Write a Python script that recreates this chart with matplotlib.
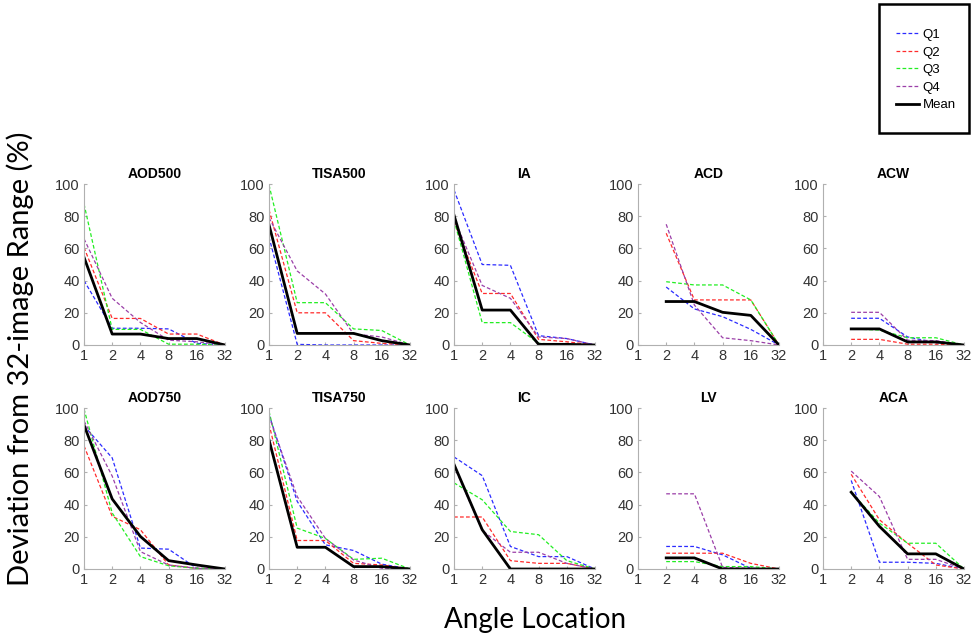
import numpy as np
import matplotlib
matplotlib.use('Agg')
import matplotlib.pyplot as plt
from matplotlib.lines import Line2D
from matplotlib.patches import Rectangle

plt.rcParams['font.family'] = ['Liberation Sans', 'DejaVu Sans']

angles = [1, 2, 4, 8, 16, 32]
nan = np.nan

titles = ['AOD500', 'TISA500', 'IA', 'ACD', 'ACW',
          'AOD750', 'TISA750', 'IC', 'LV', 'ACA']

# values per panel: Q1, Q2, Q3, Q4, Mean (deviation in %)
aod500 = {'Q1': [40, 10.4, 10.4, 10, 1, 0],
          'Q2': [60.6, 16.5, 16.5, 6.8, 6.8, 0],
          'Q3': [87.6, 9.7, 9.7, 0.5, 0.5, 0],
          'Q4': [66, 29, 14, 3, 2, 0],
          'Mean': [54.5, 6.8, 6.8, 4, 4, 0]}
tisa500 = {'Q1': [67, 0.4, 0, 0, 0, 0],
           'Q2': [84, 20, 20, 2.7, 1, 0],
           'Q3': [99.4, 26.3, 26.3, 10, 9, 0],
           'Q4': [79, 46, 31.7, 6.8, 5, 0],
           'Mean': [74.7, 7.2, 7.2, 7.2, 2.7, 0]}
ia = {'Q1': [96.3, 50, 49.5, 5.8, 4, 0],
      'Q2': [76.6, 32, 32, 3.5, 2, 0],
      'Q3': [77.6, 13.9, 13.9, 1, 0.5, 0],
      'Q4': [78.7, 37, 29, 5, 4, 0],
      'Mean': [80.7, 21.7, 21.7, 0.4, 0.4, 0]}
acd = {'Q1': [nan, 36, 22.4, 17.6, 9.7, 0],
       'Q2': [nan, 69.4, 28, 28, 28, 0],
       'Q3': [nan, 39.3, 37.3, 37.3, 28, 0],
       'Q4': [nan, 75, 24.8, 4.5, 2.7, 0],
       'Mean': [nan, 27, 27, 20.3, 18.4, 0]}
acw = {'Q1': [nan, 16.6, 16.6, 5, 1.5, 0],
       'Q2': [nan, 3.5, 3.5, 0.5, 0.5, 0],
       'Q3': [nan, 10, 9.3, 4.5, 4.5, 0],
       'Q4': [nan, 20.3, 20.3, 3, 2.7, 0],
       'Mean': [nan, 10, 10, 1.9, 1.9, 0]}
aod750 = {'Q1': [89, 69, 13, 12.3, 0.4, 0],
          'Q2': [76.5, 32.7, 24.4, 2.5, 0.4, 0],
          'Q3': [99.4, 34.8, 7.7, 2, 0.4, 0],
          'Q4': [92, 57.7, 10.8, 2.5, 0.4, 0],
          'Mean': [89.4, 43.5, 20.2, 5.2, 2.5, 0]}
tisa750 = {'Q1': [96, 42, 15, 11.5, 3, 0],
           'Q2': [90, 17.7, 17.7, 3.5, 2.5, 0],
           'Q3': [98, 25.4, 19, 6, 6.7, 0],
           'Q4': [95, 45, 19, 5.6, 0.4, 0],
           'Mean': [80.2, 13.5, 13.5, 1.5, 1.5, 0]}
ic = {'Q1': [69.6, 58, 14, 7.7, 7.7, 0],
      'Q2': [32.3, 32.3, 5.2, 3.5, 3.5, 0],
      'Q3': [53.5, 43, 23.3, 21.3, 5.2, 0],
      'Q4': [64, 24, 10.4, 10.4, 3.5, 0],
      'Mean': [65, 24.4, 0, 0, 0, 0]}
lv = {'Q1': [nan, 14, 14, 8.8, 0.4, 0],
      'Q2': [nan, 9.8, 9.8, 9.8, 3.5, 0],
      'Q3': [nan, 4.6, 4.6, 1.5, 1.5, 0],
      'Q4': [nan, 46.7, 46.7, 1, 0.4, 0],
      'Mean': [nan, 6.9, 6.9, 0, 0, 0]}
aca = {'Q1': [nan, 55, 4.2, 4.2, 3.5, 0],
       'Q2': [nan, 58.8, 30.6, 16, 2.5, 0],
       'Q3': [nan, 47.7, 28.5, 16, 16, 0],
       'Q4': [nan, 60.8, 45, 6, 6, 0],
       'Mean': [nan, 47.7, 26.5, 9.4, 9.4, 0]}

panels = [aod500, tisa500, ia, acd, acw, aod750, tisa750, ic, lv, aca]

colors = {'Q1': '#2b2bff', 'Q2': '#ff2b2b', 'Q3': '#22ee22', 'Q4': '#9b3fa8'}


def plot_panel(ax, title, data):
    for q in ['Q1', 'Q2', 'Q3', 'Q4']:
        ax.plot(angles, data[q], color=colors[q], lw=0.9, dashes=(3, 1.8))
    ax.plot(angles, data['Mean'], color='black', lw=2)
    ax.set_xscale('log', base=2)
    ax.set_xlim(1, 32)
    ax.set_ylim(0, 100)
    ax.set_xticks(angles)
    ax.set_xticklabels([str(a) for a in angles])
    ax.minorticks_off()
    ax.set_yticks([0, 20, 40, 60, 80, 100])
    ax.set_title(title, fontsize=10, fontweight='bold', pad=4)
    for s in ['top', 'right']:
        ax.spines[s].set_visible(False)
    for s in ['left', 'bottom']:
        ax.spines[s].set_color('#b0b0b0')
        ax.spines[s].set_linewidth(0.8)
    ax.tick_params(direction='in', length=2, color='#b0b0b0',
                   labelsize=10.5, labelcolor='#333333', pad=3)


fig = plt.figure(figsize=(9.75, 6.4), dpi=100)
lefts = [84, 269, 454, 638, 823]
for i in range(10):
    row, col = divmod(i, 5)
    bottom = [345, 569][row]
    ax = fig.add_axes([lefts[col] / 975, 1 - bottom / 640, 141 / 975, 161 / 640])
    plot_panel(ax, titles[i], panels[i])

fig.text(0.021, 0.44, 'Deviation from 32-image Range (%)', rotation=90,
         ha='center', va='center', fontsize=21, family=['Lato', 'DejaVu Sans'])
fig.text(0.549, 0.031, 'Angle Location', ha='center', va='center',
         fontsize=20, family=['Lato', 'DejaVu Sans'])

fig.patches.append(Rectangle((879 / 975, 1 - 133 / 640), 90 / 975, 129 / 640,
                             transform=fig.transFigure, fill=False,
                             edgecolor='black', lw=1.8))
handles = [Line2D([], [], color=colors[q], lw=0.9, dashes=(3, 1.8)) for q in ['Q1', 'Q2', 'Q3', 'Q4']]
handles.append(Line2D([], [], color='black', lw=2))
fig.legend(handles, ['Q1', 'Q2', 'Q3', 'Q4', 'Mean'], loc='center',
           bbox_to_anchor=(926 / 975, 1 - 70 / 640), frameon=False,
           fontsize=9.5, handlelength=1.7, handletextpad=0.3, labelspacing=0.4)

fig.savefig('out.png', dpi=100)
